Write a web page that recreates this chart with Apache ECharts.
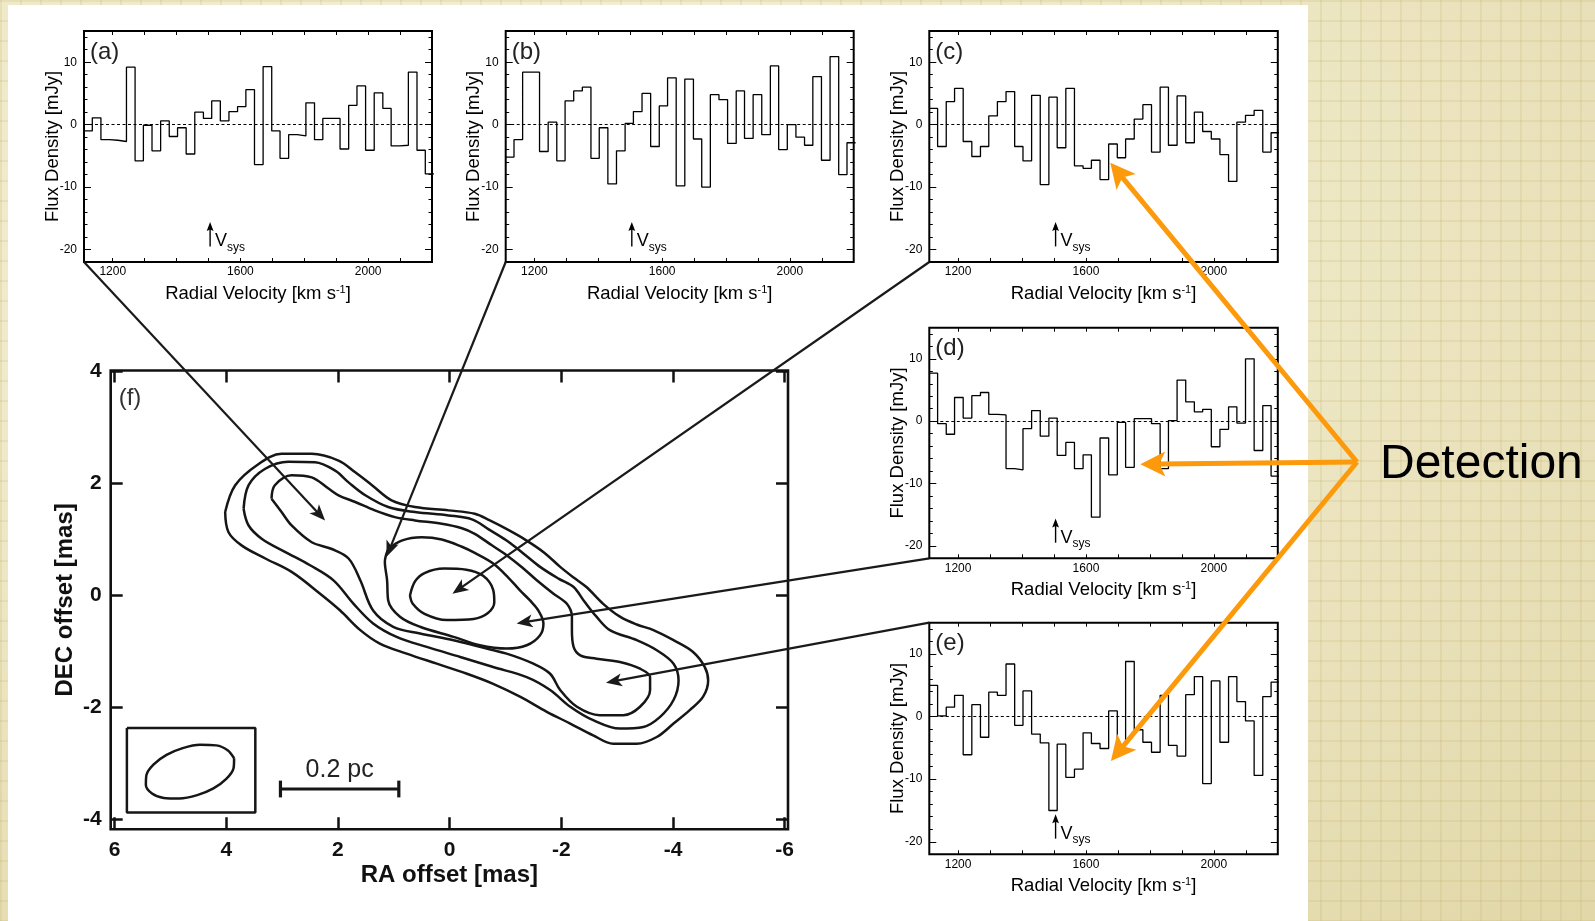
<!DOCTYPE html>
<html><head><meta charset="utf-8">
<script src="https://cdn.jsdelivr.net/npm/echarts@6/dist/echarts.min.js"></script>
<style>
html,body{margin:0;padding:0;width:1595px;height:921px;overflow:hidden;}
body{background-color:#ece5bf;
background-image:
 linear-gradient(rgba(185,165,90,0.16) 2px, transparent 2px),
 linear-gradient(90deg, rgba(185,165,90,0.16) 2px, transparent 2px),
 radial-gradient(ellipse at 35% 25%, #f6f3dc 0%, #efe9c8 45%, #e1d7a8 100%);
background-size:20px 20px,20px 20px,100% 100%;}
#white{position:absolute;left:8px;top:5px;width:1300px;height:916px;background:#fff;}
#chart{position:absolute;left:0;top:0;width:1595px;height:921px;}
</style></head><body><div id="white"></div><div id="chart"></div>
<script>
// ---------------- DATA ----------------
const velEdges = [1109,1136,1163,1189,1216,1243,1270,1296,1323,1350,1377,1403,1430,1457,1484,1510,1537,1564,1591,1617,1644,1671,1698,1724,1751,1778,1805,1832,1858,1885,1912,1939,1965,1992,2019,2046,2072,2099,2126,2153,2179,2206];
const specA = [-1.0,1.1,-2.4,-2.5,-2.7,9.2,-5.8,-0.1,-4.2,0.6,-1.9,-0.5,-4.7,2.0,1.0,3.8,0.6,2.1,2.9,5.6,-6.4,9.3,-1.0,-5.4,-1.6,-1.8,3.5,-2.4,1.0,1.0,-3.9,3.1,6.2,-4.1,5.1,2.6,-3.4,-3.3,8.4,-4.1,-7.9];
const specB = [-5.2,-2.4,8.4,8.4,-4.3,0.4,-5.8,3.8,5.4,6.0,-5.4,-0.5,-9.5,-4.2,0.2,2.1,5.0,-3.5,3.0,7.5,-9.8,7.3,-2.3,-10.0,4.8,4.0,-3.0,5.4,-2.2,4.8,-1.6,9.4,-4.0,0.0,-2.0,-3.3,7.7,-5.7,10.9,-8.0,-2.9];
const specC = [2.6,-3.5,3.7,5.8,-2.7,-5.1,-3.5,1.4,3.7,5.3,-3.5,-5.8,4.7,-9.6,4.4,-3.7,5.8,-6.6,-7.0,-5.7,-8.8,-3.1,-5.3,-2.3,0.9,3.2,-4.4,6.0,-3.3,4.6,-2.9,2.0,-1.1,-2.3,-4.8,-9.1,0.4,1.5,2.3,-4.4,-1.3];
const specD = [7.7,-0.4,-2.1,3.8,0.5,4.1,4.6,1.1,1.0,-7.6,-7.8,-1.2,1.7,-2.4,0.5,-5.5,-3.4,-7.6,-5.4,-15.4,-2.7,-8.6,-0.2,-7.4,0.4,0.4,-0.4,-7.6,0.1,6.6,3.1,1.5,1.9,-4.1,-1.3,2.3,-0.3,10.0,-4.7,2.5,-8.8];
const specE = [5.0,0.1,1.5,3.4,-6.1,1.9,-3.3,3.9,3.4,8.4,-1.4,4.1,-2.8,-4.2,-15.0,-4.4,-9.7,-8.4,-2.6,-4.3,-5.1,0.9,-4.5,8.8,-2.1,-4.1,-5.7,3.4,-4.6,-6.3,3.5,6.4,-10.7,5.7,-4.1,6.4,2.4,-0.7,-9.4,3.2,5.5];
const velRange = [1110, 2200];
const fluxRange = [-22, 15];
const velTicks = [1200,1300,1400,1500,1600,1700,1800,1900,2000,2100];
const velLabels = [1200,1600,2000];
const fluxMinorTicks = [-20,-18,-16,-14,-12,-10,-8,-6,-4,-2,0,2,4,6,8,10,12,14];
const fluxMajorTicks = [-20,-10,0,10];
const vsys = 1505;
const vsysArrow = [-19.5, -15.6];

const raRange = [-6.06, 6.07];
const decRange = [-4.18, 4.02];
const raTicks = [6,4,2,0,-2,-4,-6];
const decTicks = [4,2,0,-2,-4];
const contour1 = [[4.02,1.49],[3.84,1.97],[3.42,2.35],[3.01,2.53],[2.47,2.53],[1.99,2.41],[1.69,2.20],[1.39,1.97],[1.04,1.70],[0.62,1.58],[0.02,1.52],[-0.45,1.46],[-0.72,1.34],[-1.05,1.17],[-1.38,0.98],[-1.70,0.76],[-1.98,0.51],[-2.22,0.32],[-2.45,0.15],[-2.75,-0.15],[-3.05,-0.38],[-3.35,-0.52],[-3.65,-0.62],[-4.01,-0.80],[-4.36,-1.01],[-4.57,-1.28],[-4.63,-1.52],[-4.54,-1.81],[-4.30,-2.05],[-4.01,-2.29],[-3.71,-2.53],[-3.35,-2.65],[-2.93,-2.65],[-2.57,-2.50],[-2.16,-2.29],[-1.74,-2.08],[-1.26,-1.81],[-0.78,-1.58],[-0.31,-1.40],[0.23,-1.22],[0.77,-1.04],[1.25,-0.86],[1.60,-0.62],[1.96,-0.27],[2.32,0.03],[2.83,0.42],[3.30,0.66],[3.72,0.89],[3.96,1.13],[4.02,1.49]];
const contour2 = [[3.69,1.55],[3.60,1.97],[3.31,2.26],[2.89,2.39],[2.41,2.38],[2.05,2.23],[1.81,2.02],[1.51,1.79],[1.10,1.58],[0.62,1.49],[0.02,1.43],[-0.40,1.36],[-0.70,1.18],[-1.02,0.98],[-1.32,0.75],[-1.62,0.51],[-1.95,0.30],[-2.22,0.15],[-2.40,-0.09],[-2.63,-0.38],[-2.87,-0.62],[-3.35,-0.80],[-3.71,-0.98],[-4.01,-1.22],[-4.10,-1.52],[-4.01,-1.87],[-3.77,-2.17],[-3.47,-2.35],[-3.05,-2.38],[-2.57,-2.23],[-2.16,-1.99],[-1.80,-1.69],[-1.38,-1.46],[-0.78,-1.28],[-0.19,-1.10],[0.41,-0.92],[0.95,-0.74],[1.37,-0.50],[1.72,-0.15],[2.08,0.27],[2.50,0.54],[2.95,0.78],[3.36,1.01],[3.60,1.25],[3.69,1.55]];
const contour3 = [[3.19,1.73],[3.13,1.97],[2.83,2.15],[2.47,2.11],[2.17,1.91],[1.99,1.79],[1.69,1.67],[1.34,1.52],[0.98,1.40],[0.62,1.34],[0.14,1.28],[-0.22,1.20],[-0.45,1.10],[-0.75,0.90],[-1.02,0.72],[-1.30,0.50],[-1.55,0.28],[-1.86,0.03],[-2.10,-0.15],[-2.19,-0.38],[-2.19,-0.62],[-2.22,-0.92],[-2.34,-1.07],[-2.63,-1.13],[-3.05,-1.19],[-3.41,-1.31],[-3.59,-1.46],[-3.59,-1.69],[-3.41,-1.99],[-3.11,-2.14],[-2.69,-2.14],[-2.28,-1.99],[-1.98,-1.69],[-1.80,-1.40],[-1.50,-1.22],[-1.02,-1.04],[-0.54,-0.92],[-0.07,-0.80],[0.53,-0.68],[1.01,-0.56],[1.37,-0.27],[1.60,0.27],[1.81,0.66],[2.11,0.83],[2.47,0.95],[2.83,1.25],[3.01,1.49],[3.19,1.73]];
const contour4 = [[1.10,0.83],[0.86,0.98],[0.50,1.04],[0.14,1.00],[-0.22,0.87],[-0.45,0.76],[-0.78,0.57],[-1.05,0.32],[-1.26,0.09],[-1.44,-0.09],[-1.59,-0.27],[-1.68,-0.50],[-1.62,-0.71],[-1.38,-0.89],[-1.02,-0.95],[-0.54,-0.89],[-0.07,-0.74],[0.53,-0.56],[0.89,-0.38],[1.10,-0.09],[1.12,0.27],[1.16,0.60],[1.10,0.83]];
const contour5 = [[0.71,0.0],[0.62,0.25],[0.45,0.40],[0.10,0.48],[-0.30,0.46],[-0.60,0.35],[-0.78,0.10],[-0.80,-0.12],[-0.68,-0.32],[-0.43,-0.42],[0.05,-0.44],[0.45,-0.33],[0.66,-0.15],[0.71,0.0]];
const beamOutline = [[3.86,-2.91],[3.97,-2.77],[4.18,-2.68],[4.47,-2.67],[4.78,-2.73],[5.07,-2.85],[5.30,-3.02],[5.43,-3.21],[5.44,-3.39],[5.33,-3.54],[5.12,-3.62],[4.84,-3.63],[4.52,-3.57],[4.23,-3.45],[4.00,-3.28],[3.87,-3.09],[3.86,-2.91]];
const beamBox = [[5.78,-2.37],[3.48,-2.37],[3.48,-3.88],[5.78,-3.88],[5.78,-2.37]];
const scaleBarRA = [3.03, 0.91];
const scaleBarDEC = -3.46;
const scaleCapDEC = [-3.31, -3.61];
const scaleLabel = '0.2 pc';
const scaleLabelPos = [1.97, -3.13];
const arrowTargets = {a:[2.23,1.34], b:[1.13,0.69], c:[-0.05,0.03], d:[-1.20,-0.50], e:[-2.80,-1.56]};
const detectionTargets = [{panel:'c', v:1676, f:-6.1},{panel:'d', v:1770, f:-6.9},{panel:'e', v:1678, f:-7.1}];

// ---------------- LAYOUT ----------------
const FONT = '"Liberation Sans", Arial, Helvetica, sans-serif';
const specPanels = [
  {key:'a', vals:specA, left:84,    top:31,    width:348, height:231, from:'bottom'},
  {key:'b', vals:specB, left:505.7, top:31,    width:348, height:231, from:'bottom'},
  {key:'c', vals:specC, left:929.3, top:31,    width:348.5, height:231, from:'bottom'},
  {key:'d', vals:specD, left:929.3, top:327.7, width:348.5, height:230.6, from:'bottom'},
  {key:'e', vals:specE, left:929.3, top:622.7, width:348.5, height:231.6, from:'top'}
];
const mapPanel = {left:110.7, top:370.5, width:677.3, height:458.8};
const convergePt = [1357, 462];
const plain = v => String(v);

const grids=[], xAxes=[], yAxes=[], series=[];
const specSeriesIdx = {};

specPanels.forEach((p,gi)=>{
  grids.push({left:p.left, top:p.top, width:p.width, height:p.height, show:true, borderColor:'#000', borderWidth:2, backgroundColor:'rgba(0,0,0,0)'});
  const common = {gridIndex:gi, type:'value', min:velRange[0], max:velRange[1], splitLine:{show:false}, axisLine:{show:false,onZero:false}};
  const xi = xAxes.length;
  xAxes.push(Object.assign({}, common, {position:'bottom',
    axisTick:{show:true, inside:true, length:4, customValues:velTicks, lineStyle:{color:'#000', width:1}},
    axisLabel:{show:true, customValues:velLabels, formatter:plain, fontSize:12, color:'#000', margin:4, fontFamily:FONT},
    name:'Radial Velocity [km s{sup|-1}]', nameLocation:'middle', nameGap:22, nameMoveOverlap:false,
    nameTextStyle:{fontSize:18.5, fontFamily:FONT, color:'#000', rich:{sup:{fontSize:11, fontFamily:FONT, color:'#000', verticalAlign:'top'}}}}));
  xAxes.push(Object.assign({}, common, {position:'top',
    axisTick:{show:true, inside:true, length:4, customValues:velTicks, lineStyle:{color:'#000', width:1}},
    axisLabel:{show:false}}));
  const yc = {gridIndex:gi, type:'value', min:fluxRange[0], max:fluxRange[1], splitLine:{show:false}, axisLine:{show:false,onZero:false}};
  const yi = yAxes.length;
  yAxes.push(Object.assign({}, yc, {position:'left',
    axisTick:{show:true, inside:true, length:7, customValues:fluxMajorTicks, lineStyle:{color:'#000', width:1}},
    axisLabel:{show:true, customValues:fluxMajorTicks, formatter:plain, fontSize:12, color:'#000', margin:7, fontFamily:FONT},
    name:'Flux Density [mJy]', nameLocation:'middle', nameGap:22, nameMoveOverlap:false,
    nameTextStyle:{fontSize:18.5, fontFamily:FONT, color:'#000'}}));
  yAxes.push(Object.assign({}, yc, {position:'left',
    axisTick:{show:true, inside:true, length:3.5, customValues:fluxMinorTicks, lineStyle:{color:'#000', width:1}},
    axisLabel:{show:false}}));
  yAxes.push(Object.assign({}, yc, {position:'right',
    axisTick:{show:true, inside:true, length:7, customValues:fluxMajorTicks, lineStyle:{color:'#000', width:1}},
    axisLabel:{show:false}}));
  yAxes.push(Object.assign({}, yc, {position:'right',
    axisTick:{show:true, inside:true, length:3.5, customValues:fluxMinorTicks, lineStyle:{color:'#000', width:1}},
    axisLabel:{show:false}}));
  const data = p.vals.map((v,i)=>[velEdges[i], v]);
  data.push([velEdges[p.vals.length], p.vals[p.vals.length-1]]);
  specSeriesIdx[p.key] = series.length;
  series.push({type:'line', xAxisIndex:xi, yAxisIndex:yi, data:data, step:'end', showSymbol:false, symbol:'none',
    lineStyle:{color:'#000', width:1.3}, clip:true, silent:true, z:3,
    markLine:{silent:true, symbol:'none', label:{show:false}, lineStyle:{color:'#000', width:1, type:[3,2.5]}, data:[{yAxis:0}]}});
});

// Map panel (f)
const fg = grids.length;
grids.push({left:mapPanel.left, top:mapPanel.top, width:mapPanel.width, height:mapPanel.height, show:true, borderColor:'#111', borderWidth:2.6, backgroundColor:'rgba(0,0,0,0)'});
const fxi = xAxes.length;
const raCommon = {gridIndex:fg, type:'value', inverse:true, min:raRange[0], max:raRange[1], splitLine:{show:false}, axisLine:{show:false,onZero:false}};
xAxes.push(Object.assign({}, raCommon, {position:'bottom',
  axisTick:{show:true, inside:true, length:12, customValues:raTicks, lineStyle:{color:'#111', width:2.5}},
  axisLabel:{show:true, customValues:raTicks, formatter:plain, fontSize:21, fontWeight:'bold', color:'#111', margin:10, fontFamily:FONT},
  name:'RA offset [mas]', nameLocation:'middle', nameGap:34,
  nameTextStyle:{fontSize:24, fontWeight:'bold', fontFamily:FONT, color:'#111'}}));
xAxes.push(Object.assign({}, raCommon, {position:'top',
  axisTick:{show:true, inside:true, length:12, customValues:raTicks, lineStyle:{color:'#111', width:2.5}},
  axisLabel:{show:false}}));
const fyi = yAxes.length;
const decCommon = {gridIndex:fg, type:'value', min:decRange[0], max:decRange[1], splitLine:{show:false}, axisLine:{show:false,onZero:false}};
yAxes.push(Object.assign({}, decCommon, {position:'left',
  axisTick:{show:true, inside:true, length:12, customValues:decTicks, lineStyle:{color:'#111', width:2.5}},
  axisLabel:{show:true, customValues:decTicks, formatter:plain, fontSize:21, fontWeight:'bold', color:'#111', margin:9, fontFamily:FONT},
  name:'DEC offset [mas]', nameLocation:'middle', nameGap:33,
  nameTextStyle:{fontSize:24, fontWeight:'bold', fontFamily:FONT, color:'#111'}}));
yAxes.push(Object.assign({}, decCommon, {position:'right',
  axisTick:{show:true, inside:true, length:12, customValues:decTicks, lineStyle:{color:'#111', width:2.5}},
  axisLabel:{show:false}}));

const mapLine = (d, w, smooth) => ({type:'line', xAxisIndex:fxi, yAxisIndex:fyi, data:d, showSymbol:false, symbol:'none',
  smooth:smooth, lineStyle:{color:'#161616', width:w}, silent:true, z:3});
let mapSeriesIdx = series.length;
[contour1, contour2, contour3, contour4, contour5].forEach(c=>series.push(mapLine(c, 2.5, 0.35)));
series.push(mapLine(beamOutline, 2.5, 0.3));
series.push(mapLine(beamBox, 2.5, false));
series.push(mapLine([[scaleBarRA[0], scaleBarDEC],[scaleBarRA[1], scaleBarDEC]], 3.2, false));
series.push(mapLine([[scaleBarRA[0], scaleCapDEC[0]],[scaleBarRA[0], scaleCapDEC[1]]], 3.2, false));
series.push(mapLine([[scaleBarRA[1], scaleCapDEC[0]],[scaleBarRA[1], scaleCapDEC[1]]], 3.2, false));

const chart = echarts.init(document.getElementById('chart'), null, {renderer:'canvas'});
chart.setOption({animation:false, backgroundColor:'transparent', grid:grids, xAxis:xAxes, yAxis:yAxes, series:series});

// ---------------- ANNOTATIONS ----------------
const gfx = [];
function arrow(p0, p1, color, width, headLen, headHalf, notch) {
  const dx=p1[0]-p0[0], dy=p1[1]-p0[1]; const L=Math.hypot(dx,dy); const ux=dx/L, uy=dy/L;
  const bx=p1[0]-ux*headLen, by=p1[1]-uy*headLen; const px=-uy, py=ux;
  const nx=bx+ux*notch, ny=by+uy*notch;
  gfx.push({type:'line', silent:true, z:100, shape:{x1:p0[0],y1:p0[1],x2:nx+ux*1,y2:ny+uy*1}, style:{stroke:color, lineWidth:width}});
  gfx.push({type:'polygon', silent:true, z:101, shape:{points:[[p1[0],p1[1]],[bx+px*headHalf,by+py*headHalf],[nx,ny],[bx-px*headHalf,by-py*headHalf]]}, style:{fill:color}});
}
const mapPx = pt => chart.convertToPixel({seriesIndex:mapSeriesIdx}, pt);
specPanels.forEach(p=>{
  const si = specSeriesIdx[p.key];
  const toPx = pt => chart.convertToPixel({seriesIndex:si}, pt);
  gfx.push({type:'text', silent:true, z:50, x:p.left+6, y:p.top+21, style:{text:'('+p.key+')', fontSize:24, fontFamily:FONT, fill:'#222', align:'left', verticalAlign:'middle'}});
  const t0 = toPx([vsys, vsysArrow[0]]), t1 = toPx([vsys, vsysArrow[1]]);
  arrow(t0, t1, '#000', 1.4, 9, 3.4, 1.5);
  gfx.push({type:'text', silent:true, z:50, x:t0[0]+5, y:t0[1]+4, style:{text:'V', fontSize:18, fontFamily:FONT, fill:'#000', align:'left', verticalAlign:'bottom'}});
  gfx.push({type:'text', silent:true, z:50, x:t0[0]+17, y:t0[1]+7, style:{text:'sys', fontSize:12, fontFamily:FONT, fill:'#000', align:'left', verticalAlign:'bottom'}});
  const corner = toPx([velRange[0], p.from==='top' ? fluxRange[1] : fluxRange[0]]);
  arrow(corner, mapPx(arrowTargets[p.key]), '#1a1a1a', 2.2, 16, 6.5, 4);
});
gfx.push({type:'text', silent:true, z:50, x:mapPanel.left+8, y:mapPanel.top+28, style:{text:'(f)', fontSize:24, fontFamily:FONT, fill:'#333', align:'left', verticalAlign:'middle'}});
const sl = mapPx(scaleLabelPos);
gfx.push({type:'text', silent:true, z:50, x:sl[0], y:sl[1], style:{text:scaleLabel, fontSize:25, fontFamily:FONT, fill:'#222', align:'center', verticalAlign:'middle'}});
detectionTargets.forEach(t=>{
  const tip = chart.convertToPixel({seriesIndex:specSeriesIdx[t.panel]}, [t.v, t.f]);
  arrow(convergePt, tip, '#fd9a0c', 5, 25, 12.5, 6);
});
gfx.push({type:'text', silent:true, z:50, x:1380, y:465, style:{text:'Detection', fontSize:48, fontFamily:FONT, fill:'#000', align:'left', verticalAlign:'middle'}});
chart.setOption({graphic:gfx});
</script></body></html>
